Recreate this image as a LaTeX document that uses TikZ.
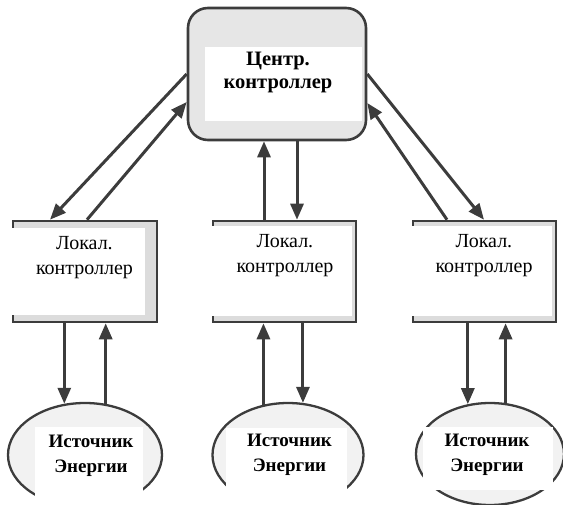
\documentclass[tikz,border=0pt]{standalone}
\usepackage{fontspec}
\setmainfont{Liberation Serif}
\usetikzlibrary{positioning,shapes,arrows.meta,calc}
\definecolor{linegray}{HTML}{3C3C3C}
\definecolor{boxgray}{HTML}{DCDCDC}
\definecolor{centregray}{HTML}{E6E6E6}
\definecolor{sourcegray}{HTML}{F2F2F2}

\begin{document}
\begin{tikzpicture}[x=1pt,y=-1pt,
    outline/.style={draw=linegray, line width=2.6pt},
    flow/.style={draw=linegray, line width=3pt, -{Triangle[length=16pt,width=13pt]}},
    pad/.style={rectangle, fill=white, inner sep=0pt},
    ctrlbox/.style={outline, rectangle, fill=boxgray, minimum width=143pt, minimum height=101pt, inner sep=0pt},
    sourcebox/.style={outline, ellipse, fill=sourcegray, line width=2.3pt, inner sep=0pt},
    ctrltext/.style={align=center, inner sep=0pt, font=\fontsize{20}{25}\selectfont},
    boldtext/.style={align=center, inner sep=0pt, font=\fontsize{20.5}{23}\selectfont\bfseries}]
    \useasboundingbox (0,0) rectangle (563,505);

    % central controller
    \node[outline, rectangle, rounded corners=20pt, fill=centregray, minimum width=178pt, minimum height=132pt, inner sep=0pt](centre-ctrl) at (277,74){};
    \node[pad, minimum width=157pt, minimum height=74pt](centre-pad) at (283.5,84){};
    \node[boldtext](centre-label) at (278,72){Центр.\\контроллер};

    % local controllers
    \node[ctrlbox, minimum width=144pt](local-ctrl-a) at (85,271.5){};
    \node[pad, minimum width=135pt, minimum height=87pt](local-pad-a) at (77.5,271.5){};
    \node[ctrltext](local-label-a) at (84.5,257.5){Локал.\\контроллер};

    \node[ctrlbox](local-ctrl-b) at (284.5,271.5){};
    \node[pad, minimum width=142pt, minimum height=90pt](local-pad-b) at (281,271){};
    \node[ctrltext](local-label-b) at (285,255.5){Локал.\\контроллер};

    \node[ctrlbox](local-ctrl-c) at (484.5,271.5){};
    \node[pad, minimum width=142pt, minimum height=90pt](local-pad-c) at (481,271){};
    \node[ctrltext](local-label-c) at (484,255.5){Локал.\\контроллер};

    % energy sources
    \node[sourcebox, minimum width=154pt, minimum height=104pt](source-a) at (85,455){};
    \node[pad, minimum width=108pt, minimum height=83pt](source-pad-a) at (89,468.5){};
    \node[boldtext, font=\fontsize{19}{25}\selectfont\bfseries](source-label-a) at (91,455.5){Источник\\Энергии};

    \node[sourcebox, minimum width=151pt, minimum height=104pt](source-b) at (288,455){};
    \node[pad, minimum width=121pt, minimum height=82pt](source-pad-b) at (286.5,469){};
    \node[boldtext, font=\fontsize{19}{25}\selectfont\bfseries](source-label-b) at (289.5,454.5){Источник\\Энергии};

    \node[sourcebox, minimum width=148pt, minimum height=102pt](source-c) at (490,454){};
    \node[pad, minimum width=130pt, minimum height=63pt](source-pad-c) at (488,458.5){};
    \node[boldtext, font=\fontsize{19}{25}\selectfont\bfseries](source-label-c) at (487,454.5){Источник\\Энергии};

    % centre <-> local
    \draw[flow](centre-ctrl.west)--([xshift=-35pt]local-ctrl-a.north);
    \draw[flow]([xshift=2pt]local-ctrl-a.north)--([yshift=-28pt]centre-ctrl.west);
    \draw[flow]([xshift=-20.5pt]local-ctrl-b.north)--([xshift=-13pt]centre-ctrl.south);
    \draw[flow]([xshift=20pt]centre-ctrl.south)--([xshift=12.5pt]local-ctrl-b.north);
    \draw[flow](centre-ctrl.east)--([xshift=-0.5pt]local-ctrl-c.north);
    \draw[flow]([xshift=-37.5pt]local-ctrl-c.north)--([yshift=-29pt]centre-ctrl.east);

    % local <-> source
    \draw[flow](local-ctrl-a.south -| source-a.112)--(source-a.112);
    \draw[flow](source-a.68)--(local-ctrl-a.south -| source-a.68);
    \draw[flow](source-b.116)--(local-ctrl-b.south -| source-b.116);
    \draw[flow](local-ctrl-b.south -| source-b.74)--(source-b.74);
    \draw[flow](local-ctrl-c.south -| source-c.114)--(source-c.114);
    \draw[flow](source-c.73)--(local-ctrl-c.south -| source-c.73);
\end{tikzpicture}
\end{document}
